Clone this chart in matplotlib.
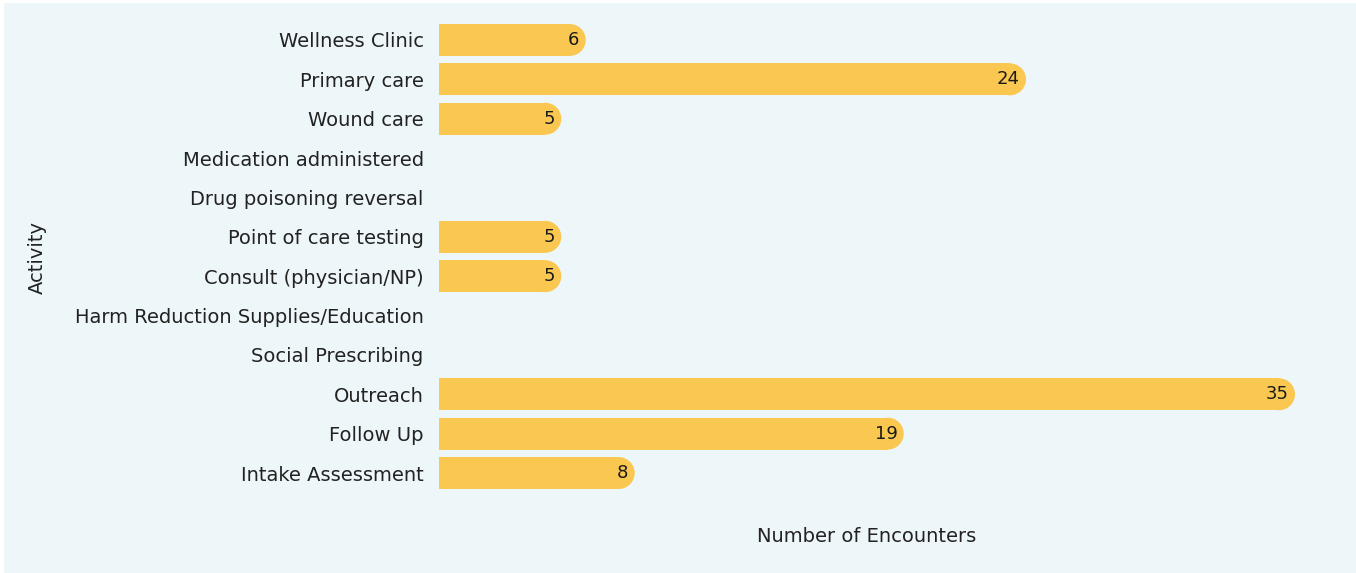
import matplotlib
matplotlib.use("Agg")
import matplotlib.pyplot as plt
from matplotlib.patches import Ellipse, Rectangle

activities = ["Wellness Clinic", "Primary care", "Wound care", "Medication administered",
              "Drug poisoning reversal", "Point of care testing", "Consult (physician/NP)",
              "Harm Reduction Supplies/Education", "Social Prescribing", "Outreach",
              "Follow Up", "Intake Assessment"]
encounters = [6, 24, 5, 0, 0, 5, 5, 0, 0, 35, 19, 8]

bar_color = "#FAC850"
bg = "#EDF6F9"
fs = 14
plt.rcParams['font.family'] = ['DejaVu Sans']

W, H = 1356, 573
fig = plt.figure(figsize=(W / 100, H / 100), dpi=100, facecolor="white")
fig.patches.append(Rectangle((4 / W, 0), 1, 1 - 3 / H, transform=fig.transFigure,
                             facecolor=bg, edgecolor="none", zorder=-10))

ax_l, ax_r, ax_t, ax_b = 439, 1295, 20.3, 492.7
ax = fig.add_axes([ax_l / W, 1 - ax_b / H, (ax_r - ax_l) / W, (ax_b - ax_t) / H])
ax.set_facecolor("none")
ax.set_xlim(0, 35)
ax.set_ylim(11.5, -0.5)

bar_h = 0.81
px_per_unit = (ax_r - ax_l) / 35
r_px = bar_h * (ax_b - ax_t) / 12 / 2
rx = r_px / px_per_unit

for i, v in enumerate(encounters):
    if v <= 0:
        continue
    ax.barh(i, v - rx, height=bar_h, color=bar_color, linewidth=0)
    ax.add_patch(Ellipse((v - rx, i), 2 * rx, bar_h, facecolor=bar_color, linewidth=0))
    ax.annotate(str(v), (v, i), xytext=(-4.5, 0), textcoords="offset points",
                ha="right", va="center", fontsize=13, color="#1a1a1a")

ax.set_yticks(range(len(activities)))
ax.set_yticklabels(activities, fontsize=fs, color="#222222")
ax.tick_params(axis="y", length=0, pad=11)
ax.set_xticks([])
for s in ax.spines.values():
    s.set_visible(False)

ax.set_xlabel("Number of Encounters", fontsize=fs, color="#222222")
ax.xaxis.set_label_coords(0.5, -(536 - ax_b) / (ax_b - ax_t), transform=ax.transAxes)
ax.xaxis.label.set_va("center")
ax.set_ylabel("Activity", fontsize=fs, color="#222222")
ax.yaxis.set_label_coords(-(ax_l - 37) / (ax_r - ax_l), 1 - (257 - ax_t) / (ax_b - ax_t),
                          transform=ax.transAxes)
ax.yaxis.label.set_va("center")

fig.savefig("out.png", dpi=100, facecolor=fig.get_facecolor())
